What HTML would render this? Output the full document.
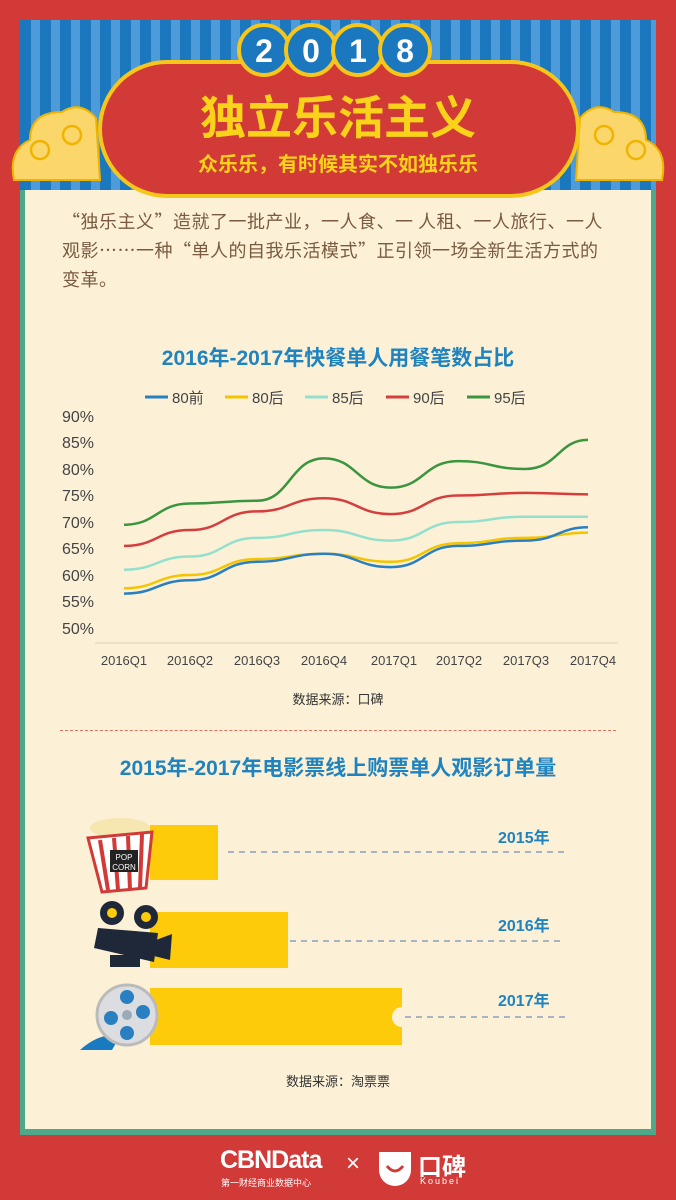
<!DOCTYPE html>
<html><head><meta charset="utf-8"><style>
*{margin:0;padding:0;box-sizing:border-box}
body{width:676px;height:1200px;background:#d23a37;position:relative;overflow:hidden;font-family:"Liberation Sans","Noto Sans CJK SC",sans-serif}
.abs{position:absolute}
.panel{left:20px;top:20px;width:636px;height:1115px;background:#fcf1d7;border-left:5px solid #4ea88a;border-right:5px solid #4ea88a;border-bottom:6px solid #4ea88a}
.stripes{left:20px;top:20px;width:636px;height:170px;background:repeating-linear-gradient(90deg,#1b78bf 0 11px,#4d9bd9 11px 20px)}
.t{position:absolute;white-space:nowrap}
.p{position:absolute;left:62px;font-size:18px;color:#7a5a40;white-space:nowrap;font-family:"Noto Sans CJK SC",sans-serif;letter-spacing:0.5px}
</style></head><body>
<div class="abs panel"></div>
<div class="abs stripes"></div>
<svg class="abs" style="left:0;top:0" width="676" height="300">
 <g fill="#fbd66b" stroke="#f0b400" stroke-width="2">
  <path d="M14 180 Q8 150 30 140 Q30 112 62 112 Q80 100 96 118 L100 180 Z"/>
  <path d="M662 180 Q668 150 646 140 Q646 112 614 112 Q596 100 580 118 L576 180 Z"/>
 </g>
 <g fill="none" stroke="#f0b400" stroke-width="2.5">
  <circle cx="40" cy="150" r="9"/><circle cx="72" cy="135" r="9"/>
  <circle cx="636" cy="150" r="9"/><circle cx="604" cy="135" r="9"/>
 </g>
 <rect x="100" y="62" width="478" height="134" rx="67" fill="#d23a37" stroke="#f6c61a" stroke-width="4"/>
 <g stroke="#f6c61a" stroke-width="4" fill="#1b78bf">
  <circle cx="264" cy="50" r="25"/><circle cx="311" cy="50" r="25"/><circle cx="358" cy="50" r="25"/><circle cx="405" cy="50" r="25"/>
 </g>
 <g fill="#fff" font-family="Liberation Sans,sans-serif" font-size="32" font-weight="bold" text-anchor="middle">
  <text x="264" y="62">2</text><text x="311" y="62">0</text><text x="358" y="62">1</text><text x="405" y="62">8</text>
 </g>
 <text x="338" y="134" text-anchor="middle" fill="#f9d21a" font-size="46" font-weight="bold" font-family="Noto Sans CJK SC,sans-serif">独立乐活主义</text>
 <text x="338" y="171" text-anchor="middle" fill="#f9d21a" font-size="20" font-weight="bold" font-family="Noto Sans CJK SC,sans-serif">众乐乐，有时候其实不如独乐乐</text>
</svg>
<div class="p" style="top:208px">“独乐主义”造就了一批产业，一人食、一 人租、一人旅行、一人</div>
<div class="p" style="top:237px">观影……一种“单人的自我乐活模式”正引领一场全新生活方式的</div>
<div class="p" style="top:266px">变革。</div>
<div class="t" style="left:0;width:676px;text-align:center;top:342px;font-size:21px;font-weight:bold;color:#1f83c0">2016年-2017年快餐单人用餐笔数占比</div>
<svg class="abs" style="left:0;top:380px" width="676" height="340">
 <g font-size="15" fill="#444">
  <line x1="145" y1="17" x2="168" y2="17" stroke="#2a7fc0" stroke-width="3"/><text x="172" y="23">80前</text>
  <line x1="225" y1="17" x2="248" y2="17" stroke="#f5c400" stroke-width="3"/><text x="252" y="23">80后</text>
  <line x1="305" y1="17" x2="328" y2="17" stroke="#93e0cc" stroke-width="3"/><text x="332" y="23">85后</text>
  <line x1="386" y1="17" x2="409" y2="17" stroke="#d43f3d" stroke-width="3"/><text x="413" y="23">90后</text>
  <line x1="467" y1="17" x2="490" y2="17" stroke="#3b953f" stroke-width="3"/><text x="494" y="23">95后</text>
 </g>
 <g font-size="16" fill="#444">
  <text x="62" y="42">90%</text><text x="62" y="68">85%</text><text x="62" y="95">80%</text><text x="62" y="121">75%</text><text x="62" y="148">70%</text><text x="62" y="174">65%</text><text x="62" y="201">60%</text><text x="62" y="227">55%</text><text x="62" y="254">50%</text>
 </g>
 <line x1="95" y1="263" x2="618" y2="263" stroke="#e8dcc0" stroke-width="1.5"/>
 <g font-size="13" fill="#444" text-anchor="middle">
  <text x="124" y="285">2016Q1</text><text x="190" y="285">2016Q2</text><text x="257" y="285">2016Q3</text><text x="324" y="285">2016Q4</text><text x="394" y="285">2017Q1</text><text x="459" y="285">2017Q2</text><text x="526" y="285">2017Q3</text><text x="593" y="285">2017Q4</text>
 </g>
 <g transform="translate(0,-380)" fill="none" stroke-width="2.5">
  <path stroke="#93e0cc" d="M124 569.7C157 569.7 157 556.5 190 556.5C223 556.5 223 537.9 257 537.9C290 537.9 290 530 324 530C357 530 357 540.6 391 540.6C424 540.6 424 522 458 522C491 522 491 516.7 525 516.7C558 516.7 558 516.7 588 516.7"/>
  <path stroke="#f5c400" d="M124 588.3C157 588.3 157 575 190 575C223 575 223 559.1 257 559.1C290 559.1 290 553.8 324 553.8C357 553.8 357 561.8 391 561.8C424 561.8 424 543.2 458 543.2C491 543.2 491 537.9 525 537.9C558 537.9 558 532.6 588 532.6"/>
  <path stroke="#2a7fc0" d="M124 593.6C157 593.6 157 580.3 190 580.3C223 580.3 223 561.8 257 561.8C290 561.8 290 553.8 324 553.8C357 553.8 357 567.1 391 567.1C424 567.1 424 545.9 458 545.9C491 545.9 491 540.6 525 540.6C558 540.6 558 527.3 588 527.3"/>
  <path stroke="#d43f3d" d="M124 545.9C157 545.9 157 530 190 530C223 530 223 511.4 257 511.4C290 511.4 290 498.2 324 498.2C357 498.2 357 514.1 391 514.1C424 514.1 424 495.5 458 495.5C491 495.5 491 492.9 525 492.9C558 492.9 558 494.4 588 494.4"/>
  <path stroke="#3b953f" d="M124 524.7C157 524.7 157 503.5 190 503.5C223 503.5 223 500.8 257 500.8C290 500.8 290 458.4 324 458.4C357 458.4 357 487.6 391 487.6C424 487.6 424 461.1 458 461.1C491 461.1 491 469 525 469C558 469 558 439.9 588 439.9"/>
 </g>
 <text x="338" y="324" text-anchor="middle" font-size="13" fill="#333">数据来源：口碑</text>
</svg>
<div class="abs" style="left:60px;top:730px;width:556px;border-top:1.5px dashed #e07060"></div>
<div class="t" style="left:0;width:676px;text-align:center;top:752px;font-size:21px;font-weight:bold;color:#1f83c0">2015年-2017年电影票线上购票单人观影订单量</div>
<svg class="abs" style="left:0;top:800px" width="676" height="300">
 <g stroke="#8ba0b8" stroke-width="1.5" stroke-dasharray="6 5">
  <line x1="228" y1="52" x2="565" y2="52"/><line x1="290" y1="141" x2="565" y2="141"/><line x1="405" y1="217" x2="565" y2="217"/>
 </g>
 <path fill="#fdcb0a" d="M150 25H218V80H150Z"/>
 <path fill="#fdcb0a" d="M150 112H288V168H150Z"/>
 <path fill="#fdcb0a" d="M150 188H402V207A10 10 0 0 0 402 227V245H150Z"/>
 <ellipse cx="120" cy="28" rx="30" ry="10" fill="#f6e6b0"/>
 <path d="M88 38L152 32L146 88L102 92Z" fill="#fff" stroke="#d23a37" stroke-width="3"/>
 <g stroke="#d23a37" stroke-width="4"><line x1="100" y1="40" x2="108" y2="90"/><line x1="114" y1="38" x2="118" y2="90"/><line x1="128" y1="36" x2="130" y2="90"/><line x1="142" y1="34" x2="140" y2="88"/></g>
 <rect x="110" y="50" width="28" height="22" fill="#222"/>
 <text x="124" y="60" font-size="8" fill="#fff" text-anchor="middle">POP</text><text x="124" y="70" font-size="8" fill="#fff" text-anchor="middle">CORN</text>
 <circle cx="112" cy="113" r="12" fill="#1f2838"/><circle cx="146" cy="117" r="12" fill="#1f2838"/>
 <circle cx="112" cy="113" r="5" fill="#fdcb0a"/><circle cx="146" cy="117" r="5" fill="#fdcb0a"/>
 <path d="M98 128L158 133L154 162L94 148Z" fill="#1f2838"/>
 <path d="M156 140L172 134L170 160L154 156Z" fill="#1f2838"/>
 <rect x="110" y="155" width="30" height="12" fill="#1f2838"/>
 <path d="M80 250Q100 232 120 236L112 250Z" fill="#1a7ac0"/>
 <circle cx="127" cy="215" r="30" fill="#dcdde0" stroke="#bbb" stroke-width="3"/>
 <g fill="#2a7fc0"><circle cx="127" cy="197" r="7"/><circle cx="111" cy="218" r="7"/><circle cx="143" cy="212" r="7"/><circle cx="127" cy="233" r="7"/></g>
 <circle cx="127" cy="215" r="5" fill="#9ab"/>
 <g font-size="16" font-weight="bold" fill="#1f83c0">
  <text x="498" y="43">2015年</text><text x="498" y="131">2016年</text><text x="498" y="206">2017年</text>
 </g>
 <text x="338" y="286" text-anchor="middle" font-size="13" fill="#333">数据来源：淘票票</text>
</svg>
<div class="t" style="left:220px;top:1146px;font-size:25px;font-weight:bold;color:#fff;letter-spacing:-1px">CBNData</div>
<div class="t" style="left:221px;top:1176px;font-size:9px;color:#fff">第一财经商业数据中心</div>
<div class="t" style="left:346px;top:1150px;font-size:24px;color:#fff">×</div>
<svg class="abs" style="left:375px;top:1148px" width="40" height="40"><path d="M4 4H36V22A16 16 0 0 1 4 22Z" fill="#fff"/><path d="M12 18Q20 28 28 18" stroke="#d23a37" stroke-width="3" fill="none"/></svg>
<div class="t" style="left:418px;top:1147px;font-size:24px;font-weight:bold;color:#fff">口碑</div>
<div class="t" style="left:420px;top:1176px;font-size:9px;color:#fff;letter-spacing:2px">Koubei</div>
</body></html>
